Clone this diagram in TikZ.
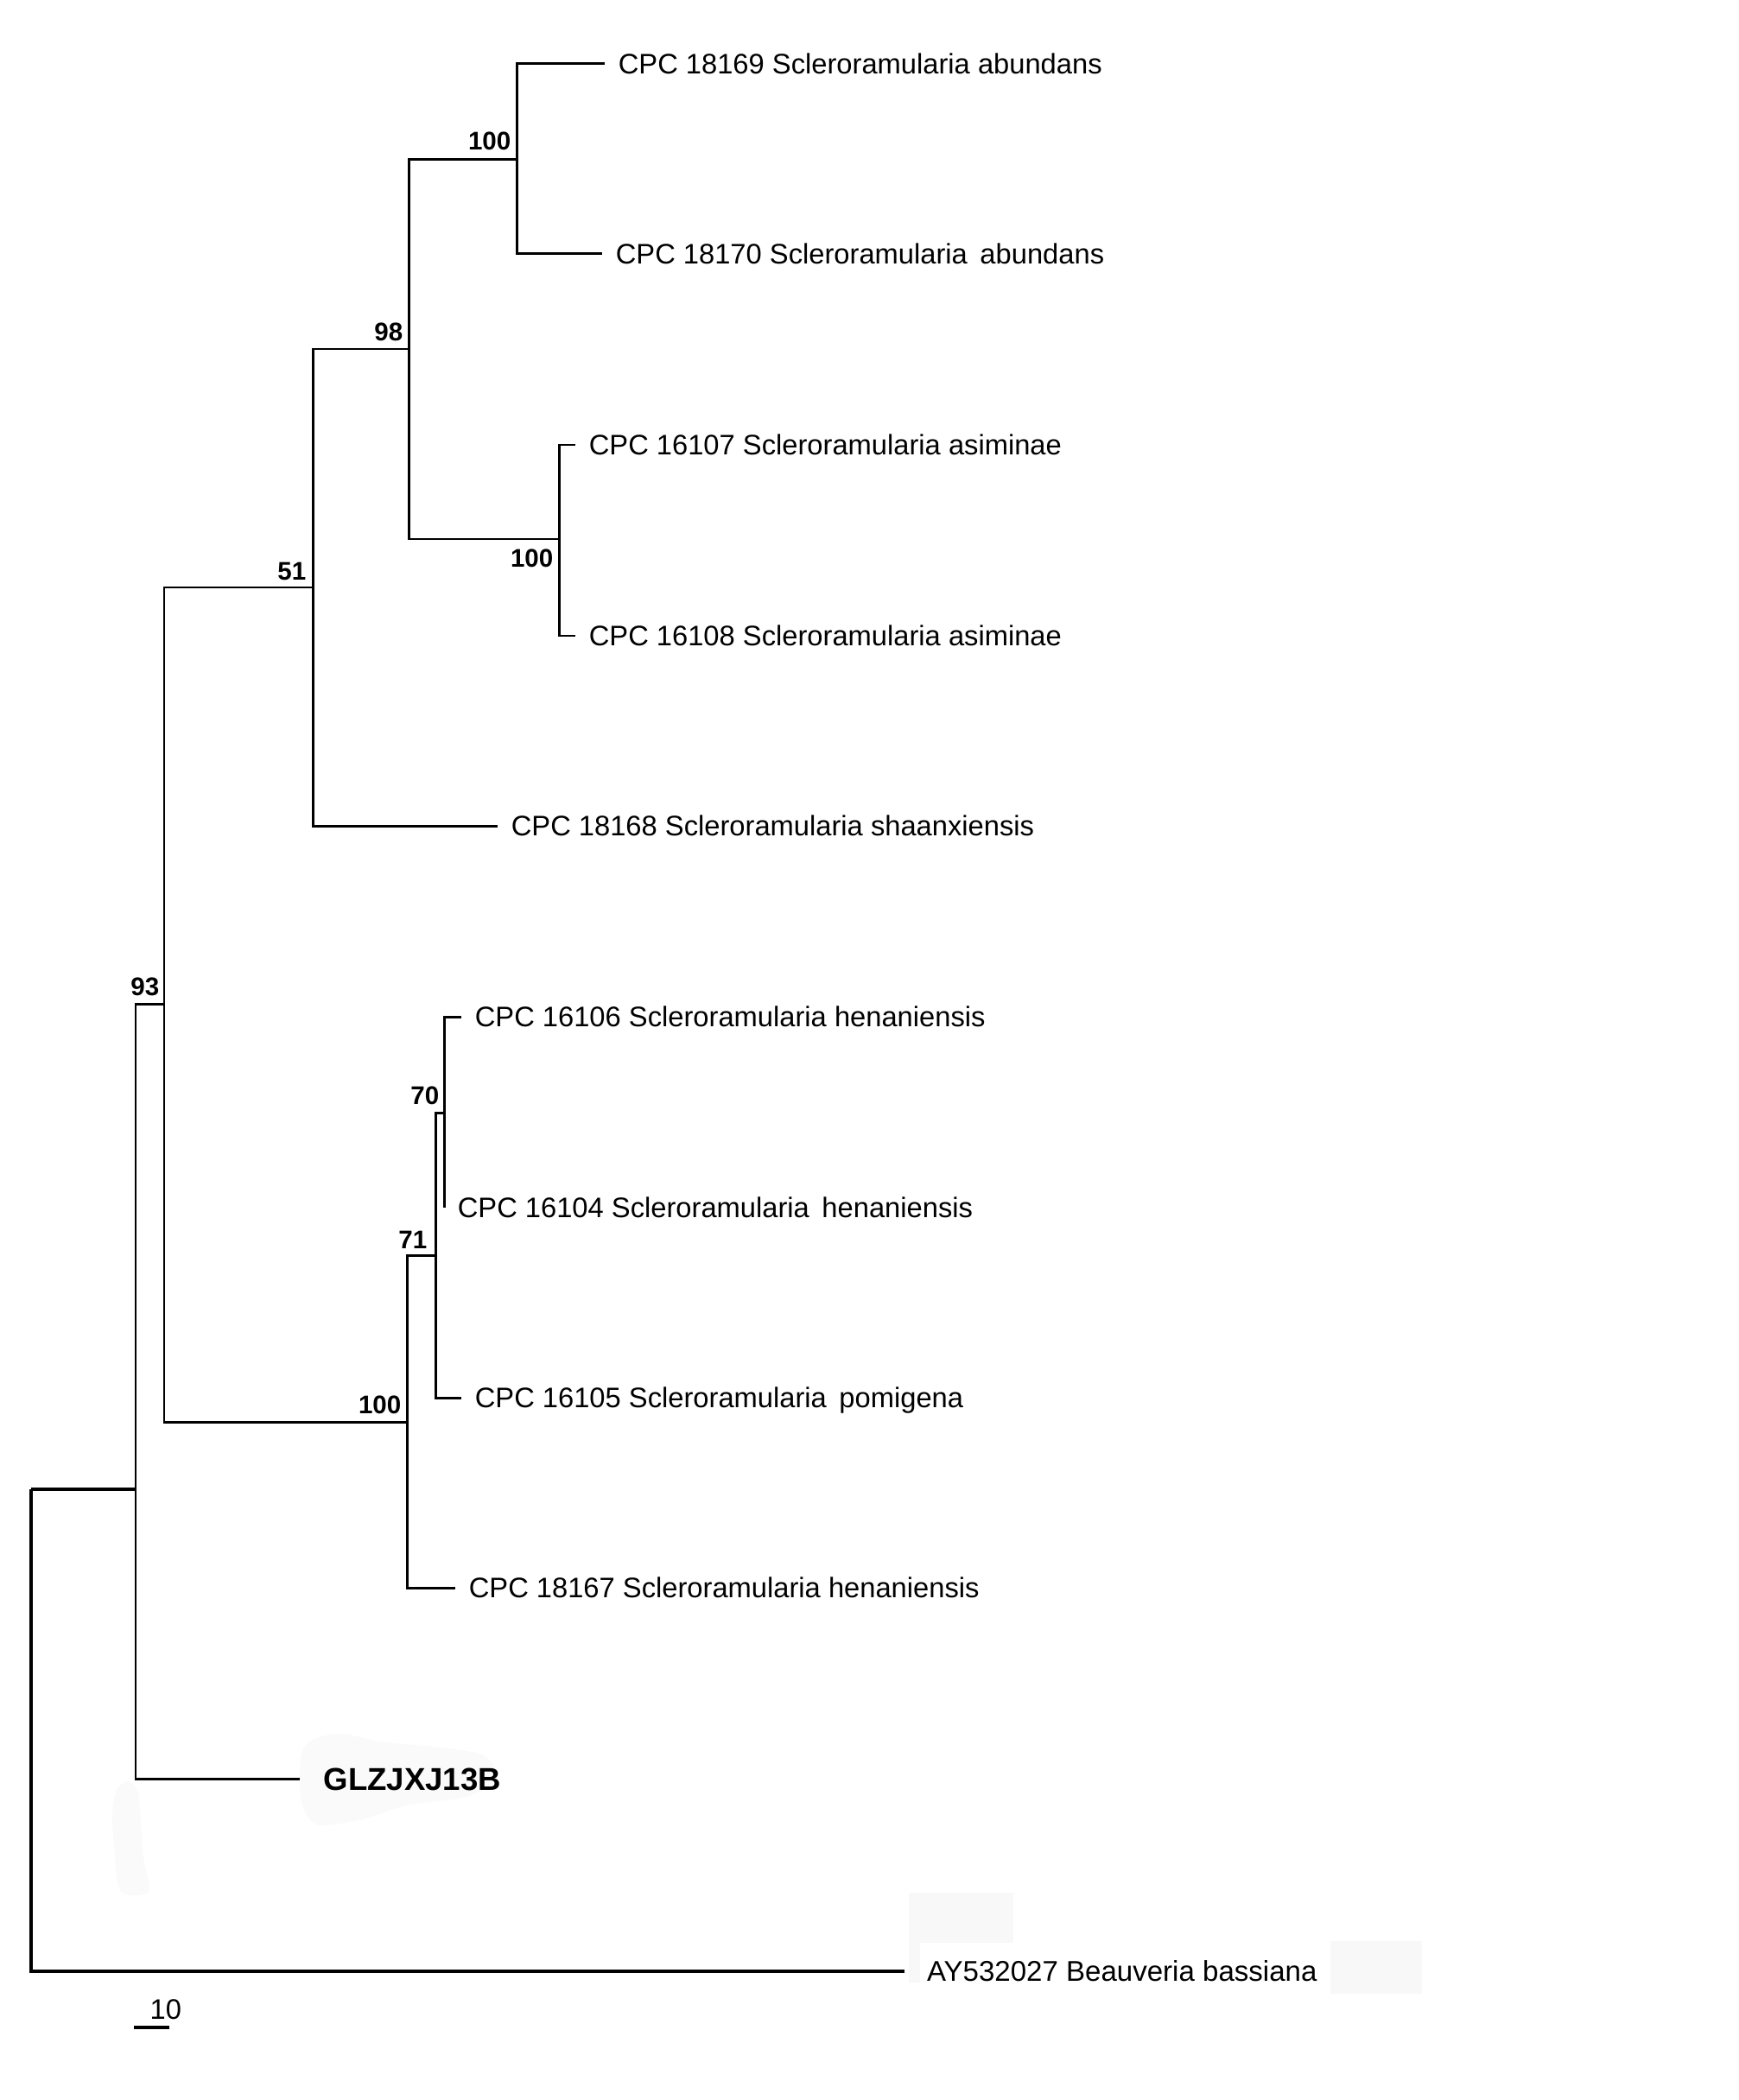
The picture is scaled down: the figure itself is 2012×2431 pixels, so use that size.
\documentclass[tikz,border=0pt]{standalone}
\usepackage{fontspec}
\setmainfont{Liberation Sans}
\definecolor{patch}{gray}{0.972}

\begin{document}
\begin{tikzpicture}[x=0.01cm,y=-0.01cm,
every node/.style={inner sep=0pt},
leaf/.style={anchor=west,inner xsep=4.3pt,text height=6.7pt,text depth=0pt,
  font=\fontsize{9.3}{11}\selectfont},
boot/.style={anchor=south east,font=\bfseries\fontsize{8.4}{10}\selectfont},
branch/.style={line width=0.85pt},
rootbranch/.style={line width=1.05pt}]
\useasboundingbox (0,0) rectangle (2012,2431);
% faint erased patches
\fill[patch] (1052,2191) rectangle (1173,2249);
\fill[patch] (1052,2249) rectangle (1065,2295);
\fill[patch] (1540,2247) rectangle (1646,2308);
\fill[patch!70!white] plot[smooth cycle] coordinates {(352,2022) (392,2007) (440,2016) (500,2022)
  (560,2032) (574,2060) (540,2080) (470,2090) (420,2106) (366,2112) (348,2080)};
\fill[patch!70!white] plot[smooth cycle] coordinates {(150,2062) (160,2076) (163,2110)
  (166,2150) (172,2190) (140,2190) (133,2150) (130,2100) (136,2070)};
% internal nodes
\coordinate (R) at (36,1724);
\coordinate (NA) at (157,1724);
\coordinate (N93) at (190,1162);
\coordinate (N51) at (362,680);
\coordinate (N98) at (473,404);
\coordinate (NAbu) at (598,185);
\coordinate (NAsi) at (647,624);
\coordinate (NHen) at (471,1646);
\coordinate (N71) at (504,1453);
\coordinate (N70) at (514,1288);
% leaves
\node[leaf] (L18169) at (700,74) {CPC 18169 Scleroramularia abundans};
\node[leaf] (L18170) at (697,294) {CPC 18170 Scleroramularia\, abundans};
\node[leaf] (L16107) at (666,515) {CPC 16107 Scleroramularia asiminae};
\node[leaf] (L16108) at (666,736) {CPC 16108 Scleroramularia asiminae};
\node[leaf] (L18168) at (576,956) {CPC 18168 Scleroramularia shaanxiensis};
\node[leaf] (L16106) at (534,1177) {CPC 16106 Scleroramularia henaniensis};
\node[leaf] (L16104) at (514,1398) {CPC 16104 Scleroramularia\, henaniensis};
\node[leaf] (L16105) at (534,1618) {CPC 16105 Scleroramularia\, pomigena};
\node[leaf] (L18167) at (527,1838) {CPC 18167 Scleroramularia henaniensis};
\node[leaf,inner xsep=7.7pt,text height=7.5pt,font=\bfseries\fontsize{10.4}{12}\selectfont]
  (LGLZ) at (347,2059) {GLZJXJ13B};
\node[leaf,inner xsep=7.2pt,font=\fontsize{9.4}{11}\selectfont] (LBea) at (1047,2282)
  {AY532027 Beauveria bassiana};
% branches
\draw[branch] (NAbu) |- (L18169.west);
\draw[branch] (NAbu) |- (L18170.west);
\draw[branch] (NAsi) |- (L16107.west);
\draw[branch] (NAsi) |- (L16108.west);
\draw[branch] (N98) |- (NAbu);
\draw[branch] (N98) |- (NAsi);
\draw[branch] (N51) |- (N98);
\draw[branch] (N51) |- (L18168.west);
\draw[branch] (N70) |- (L16106.west);
\draw[branch] (N70) |- (L16104.west);
\draw[branch] (N71) |- (N70);
\draw[branch] (N71) |- (L16105.west);
\draw[branch] (NHen) |- (N71);
\draw[branch] (NHen) |- (L18167.west);
\draw[branch] (N93) |- (N51);
\draw[branch] (N93) |- (NHen);
\draw[branch] (NA) |- (N93);
\draw[branch] (NA) |- (LGLZ.west);
\draw[rootbranch] (R) -- (NA);
\draw[rootbranch] (R) |- (LBea.west);
% bootstrap values
\node[boot] (B100a) at (592,175) {100};
\node[boot] (B98) at (467,395) {98};
\node[boot] (B51) at (355,672) {51};
\node[boot,anchor=north east] (B100b) at (641,635) {100};
\node[boot] (B93) at (185,1154) {93};
\node[boot] (B70) at (509,1279) {70};
\node[boot] (B71) at (495,1446) {71};
\node[boot] (B100c) at (465,1637) {100};
% scale bar
\coordinate (S1) at (155,2347);
\coordinate (S2) at (196,2347);
\draw[line width=0.9pt] (S1) -- (S2);
\node[anchor=south west,font=\fontsize{9.3}{11}\selectfont] (S10) at (173,2338) {10};
\end{tikzpicture}
\end{document}
